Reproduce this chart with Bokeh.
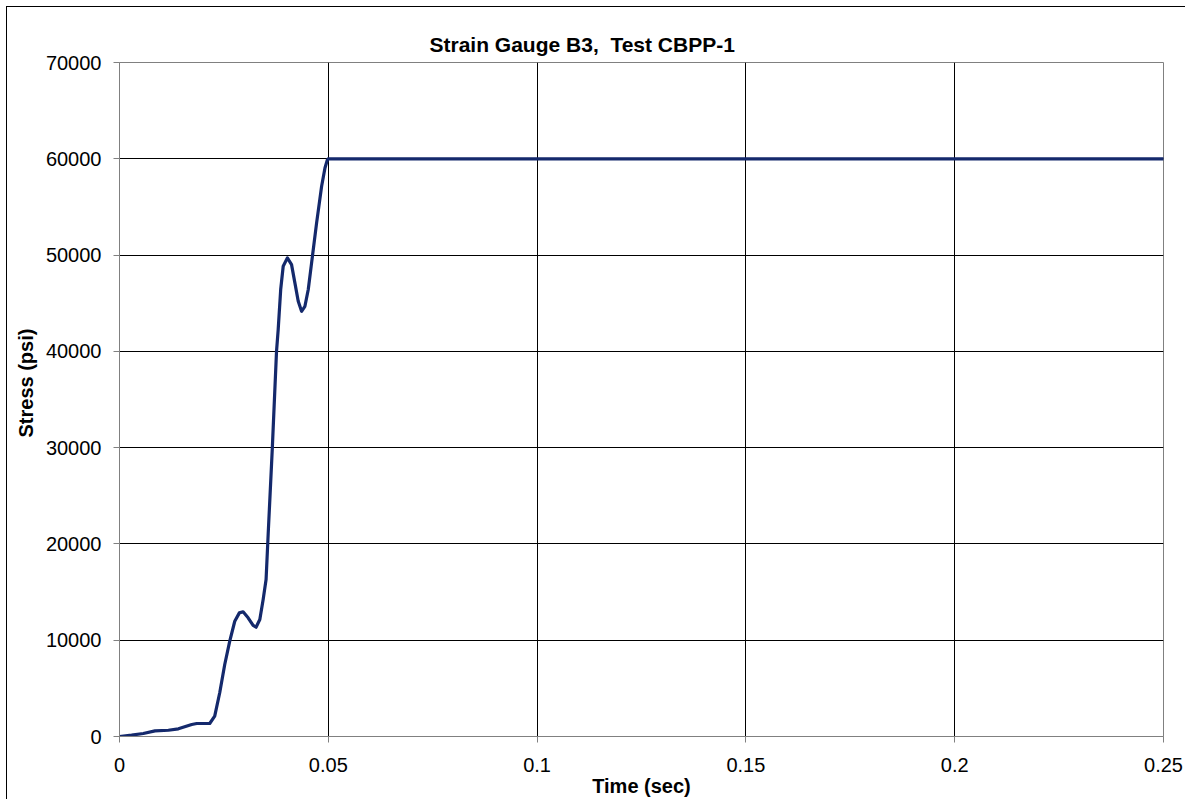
from bokeh.plotting import figure
from bokeh.models import Range1d, FixedTicker, Title
from bokeh.embed import file_html
from bokeh.resources import INLINE

# ---- data ----
time_sec = [0, 0.0029, 0.0057, 0.0085, 0.0117, 0.0141, 0.0173, 0.0185, 0.0216,
            0.0228, 0.0240, 0.0252, 0.0264, 0.0276, 0.0287, 0.0296, 0.0308,
            0.0320, 0.0327, 0.0336, 0.0344, 0.0351, 0.0356, 0.0366, 0.0376,
            0.0380, 0.0386, 0.0392, 0.0402, 0.0412, 0.0420, 0.0428, 0.0436,
            0.0444, 0.0452, 0.0460, 0.0472, 0.0484, 0.0492, 0.0498, 0.0500, 0.25]
stress_psi = [0, 135, 310, 590, 650, 800, 1250, 1350, 1350,
              2110, 4540, 7480, 9900, 11970, 12840, 12950, 12330,
              11530, 11350, 12150, 14230, 16300, 21000, 30000, 40000,
              42260, 46420, 48840, 49710, 49010, 47110, 45200, 44160,
              44680, 46420, 49190, 53340, 57140, 59050, 59920, 60000, 60000]

x_ticks = [0, 0.05, 0.1, 0.15, 0.2, 0.25]
x_tick_labels = ["0", "0.05", "0.1", "0.15", "0.2", "0.25"]
y_ticks = [0, 10000, 20000, 30000, 40000, 50000, 60000, 70000]
y_tick_labels = ["0", "10000", "20000", "30000", "40000", "50000", "60000", "70000"]

# the reference has two spaces after the comma; a no-break space keeps both visible
title_text = "Strain Gauge B3,\u00a0 Test CBPP-1"
x_label = "Time (sec)"
y_label = "Stress (psi)"

FONT = "Liberation Sans"

p = figure(
    output_backend="svg", toolbar_location=None,
    frame_width=1044, frame_height=674,
    min_border_left=110, min_border_right=22,
    min_border_top=55, min_border_bottom=61,
    x_range=Range1d(0, 0.25), y_range=Range1d(0, 70000),
    background_fill_color="white", border_fill_color="white",
)
p.styles = {"margin-left": "6px", "margin-top": "6px",
            "border-left": "1px solid #000000", "border-top": "1px solid #000000"}
p.outline_line_color = "#808080"
p.outline_line_width = 1

# title (left-aligned with an offset so it sits where the reference has it)
p.title.text = title_text
p.title.align = "left"
p.title.offset = 310
p.title.standoff = 14
p.title.text_font = FONT
p.title.text_font_size = "21px"
p.title.text_font_style = "bold"
p.title.text_color = "#000000"

# grid
p.xgrid.ticker = FixedTicker(ticks=x_ticks[1:-1])
p.ygrid.ticker = FixedTicker(ticks=y_ticks[1:-1])
p.xgrid.grid_line_color = "#000000"
p.ygrid.grid_line_color = "#000000"
p.xgrid.grid_line_width = 1
p.ygrid.grid_line_width = 1

# axes
for ax, ticks, labels in ((p.xaxis[0], x_ticks, x_tick_labels),
                          (p.yaxis[0], y_ticks, y_tick_labels)):
    ax.ticker = FixedTicker(ticks=ticks)
    ax.major_label_overrides = {t: l for t, l in zip(ticks, labels)}
    ax.axis_line_color = "#808080"
    ax.axis_line_width = 1
    ax.major_tick_line_color = "#808080"
    ax.major_tick_in = 0
    ax.major_tick_out = 6
    ax.minor_tick_line_color = None
    ax.major_label_text_font = FONT
    ax.major_label_text_font_size = "20px"
    ax.major_label_text_color = "#000000"

p.xaxis[0].major_label_standoff = 15
p.yaxis[0].major_label_standoff = 12

p.xaxis[0].axis_label = x_label
p.xaxis[0].axis_label_text_font = FONT
p.xaxis[0].axis_label_text_font_size = "20px"
p.xaxis[0].axis_label_text_font_style = "bold"
p.xaxis[0].axis_label_text_color = "#000000"
p.xaxis[0].axis_label_standoff = 0

# y label as a side title (allows the vertical placement of the reference)
p.add_layout(Title(text=y_label, align="left", offset=299, standoff=11,
                   text_font=FONT, text_font_size="20px",
                   text_font_style="bold", text_color="#000000"), "left")

# series
p.line(time_sec, stress_psi, line_color="#14296C", line_width=3.2,
       line_join="round", line_cap="round")

open("out.html", "w").write(file_html(p, INLINE))
